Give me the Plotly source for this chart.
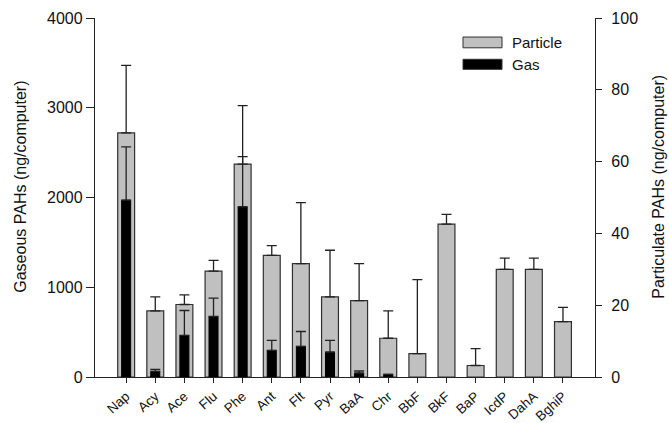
import plotly.graph_objects as go

categories = ["Nap", "Acy", "Ace", "Flu", "Phe", "Ant", "Flt", "Pyr", "BaA", "Chr",
              "BbF", "BkF", "BaP", "IcdP", "DahA", "BghiP"]
particle = [68.0, 18.4, 20.2, 29.5, 59.3, 33.9, 31.6, 22.3, 21.3, 10.8,
            6.5, 42.6, 3.2, 30.0, 30.0, 15.4]
particle_err_top = [86.8, 22.3, 22.9, 32.5, 75.6, 36.6, 48.6, 35.3, 31.6, 18.4,
                    27.1, 45.3, 7.9, 33.1, 33.1, 19.4]
gas = [1970, 63, 463, 674, 1896, 296, 341, 278, 44, 30,
       None, None, None, None, None, None]
gas_err_top = [2563, 85, 741, 878, 2456, 407, 507, 407, 67, 30,
               None, None, None, None, None, None]
series_names = ["Particle", "Gas"]
series_colors = ["#c0c0c0", "#000000"]
left_title = "Gaseous PAHs (ng/computer)"
right_title = "Particulate PAHs (ng/computer)"

p_err = [t - v for t, v in zip(particle_err_top, particle)]
g_err = [(t - v) if v is not None else None for t, v in zip(gas_err_top, gas)]

fig = go.Figure()
fig.add_trace(go.Bar(
    x=categories, y=particle, name=series_names[0], yaxis="y", width=0.58,
    marker=dict(color=series_colors[0], line=dict(color="#303030", width=1.2)),
    error_y=dict(type="data", array=p_err, arrayminus=[0] * len(p_err), symmetric=False,
                 color="#222222", thickness=1.3, width=5),
))
fig.add_trace(go.Bar(
    x=categories, y=gas, name=series_names[1], yaxis="y2", width=0.31,
    marker=dict(color=series_colors[1], line=dict(color="#000000", width=1)),
    error_y=dict(type="data", array=g_err, arrayminus=[0] * len(g_err), symmetric=False,
                 color="#222222", thickness=1.3, width=5),
))

# custom legend with wide swatches (as in the reference)
legend_rows = [(0.947, 0.917), (0.885, 0.857)]
shapes = []
annotations = []
for name, col, (ytop, ybot) in zip(series_names, series_colors, legend_rows):
    shapes.append(dict(type="rect", xref="paper", yref="paper", x0=0.736, x1=0.814,
                       y0=ybot, y1=ytop, fillcolor=col,
                       line=dict(color="#303030", width=1)))
    annotations.append(dict(text=name, xref="paper", yref="paper", x=0.83,
                            y=(ytop + ybot) / 2, xanchor="left", yanchor="middle",
                            showarrow=False, font=dict(size=15)))

# axis titles (placed as in the reference, slightly above axis centre)
annotations.append(dict(text=left_title, xref="paper", yref="paper", x=-0.148, y=0.53,
                        xanchor="center", yanchor="middle", textangle=-90,
                        showarrow=False, font=dict(size=16)))
annotations.append(dict(text=right_title, xref="paper", yref="paper", x=1.128, y=0.53,
                        xanchor="center", yanchor="middle", textangle=-90,
                        showarrow=False, font=dict(size=16)))

font_family = "Liberation Sans, Arial, sans-serif"
fig.update_layout(
    width=669, height=423,
    margin=dict(l=95, r=74, t=18, b=46),
    paper_bgcolor="white", plot_bgcolor="white",
    barmode="overlay",
    font=dict(family=font_family, size=15, color="#111111"),
    showlegend=False,
    shapes=shapes, annotations=annotations,
    xaxis=dict(
        type="category", categoryorder="array", categoryarray=categories,
        range=[-1.07, 16.1], showline=True, linecolor="#222", linewidth=1.3,
        ticks="outside", ticklen=5, tickcolor="#222", tickangle=-42,
        tickfont=dict(size=13.5), showgrid=False, zeroline=False, automargin=False,
    ),
    yaxis=dict(
        side="right", range=[0, 100], tickvals=[0, 20, 40, 60, 80, 100],
        showline=True, linecolor="#222", linewidth=1.3, ticks="outside", ticklen=6,
        tickcolor="#222", showgrid=False, zeroline=False, tickfont=dict(size=16),
        ticklabelstandoff=6, automargin=False,
    ),
    yaxis2=dict(
        side="left", overlaying="y", range=[0, 4000],
        tickvals=[0, 1000, 2000, 3000, 4000],
        showline=True, linecolor="#222", linewidth=1.3, ticks="outside", ticklen=8,
        tickcolor="#222", showgrid=False, zeroline=False, tickfont=dict(size=16),
        automargin=False,
    ),
)

fig.write_html("out.html")
